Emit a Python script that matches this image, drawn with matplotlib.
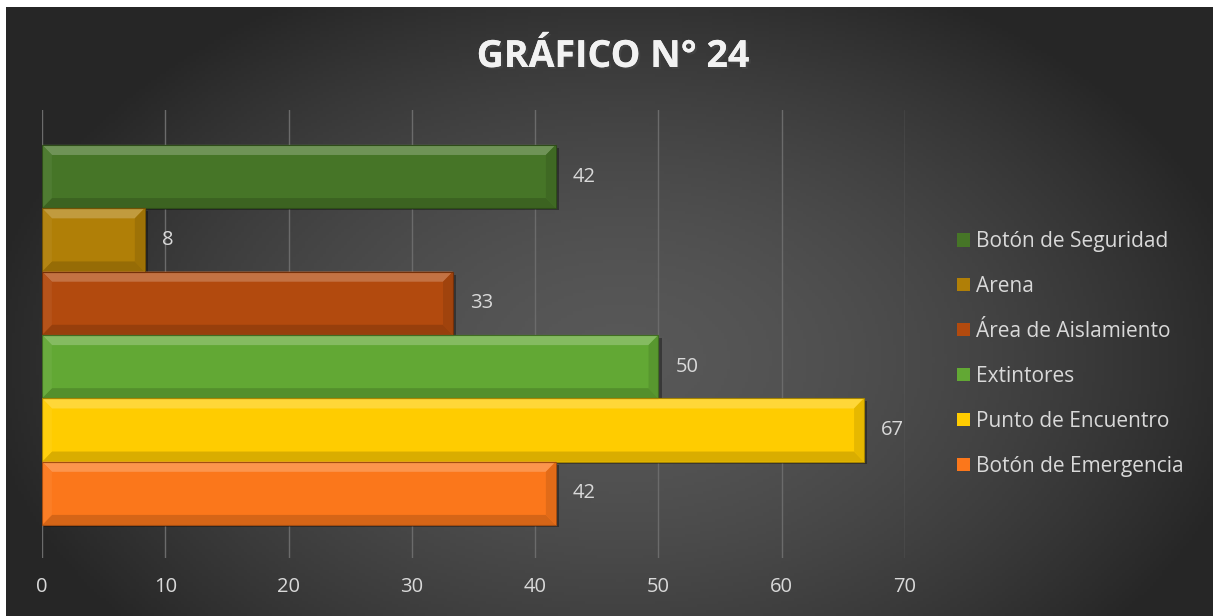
import numpy as np
import matplotlib
matplotlib.use("Agg")
import matplotlib.pyplot as plt
from matplotlib.patches import Polygon
import matplotlib.patheffects as pe

# data (top to bottom as in the chart)
categorias = ["Botón de Seguridad", "Arena", "Área de Aislamiento",
              "Extintores", "Punto de Encuentro", "Botón de Emergencia"]
valores = [41.67, 8.33, 33.33, 50.0, 66.67, 41.67]
colores = ["#467527", "#b07f07", "#b24a0e", "#62a834", "#ffcc00", "#fb771b"]
ticks_x = [0, 10, 20, 30, 40, 50, 60, 70]

plt.rcParams['font.family'] = ['Open Sans', 'DejaVu Sans']

W, H = 1213, 616
fig = plt.figure(figsize=(W / 100, H / 100), dpi=100, facecolor="white")

# radial background
bg = fig.add_axes([6 / W, 0, 1 - 6 / W, 1 - 7 / H])
bg.set_axis_off()
xx, yy = np.meshgrid(np.linspace(6, W, 400), np.linspace(7, H, 200))
r = np.sqrt(((xx - 620) / 640) ** 2 + ((yy - 360) / 420) ** 2)
r = np.clip(r, 0, 1)
c = 0.345 - (0.345 - 0.15) * r ** 1.6
bg.imshow(np.dstack([c, c, c]), extent=[0, 1, 0, 1], aspect="auto", origin="upper")
bg.set_xlim(0, 1)
bg.set_ylim(0, 1)


def mezcla(col, otro, t):
    a = np.array(matplotlib.colors.to_rgb(col))
    b = np.array(matplotlib.colors.to_rgb(otro))
    return tuple(a * (1 - t) + b * t)


ax = fig.add_axes([42 / W, 1 - 558 / H, (905 - 42) / W, (558 - 110) / H])
ax.patch.set_alpha(0)
n = len(categorias)
pos = np.arange(n)[::-1]
barras = ax.barh(pos, valores, height=1.0, color=colores, zorder=3,
                 edgecolor="none")

dx, dy = 0.8, 0.16
for b, col in zip(barras, colores):
    x0, y0 = b.get_x(), b.get_y()
    w, h = b.get_width(), b.get_height()
    x1, y1 = x0 + w, y0 + h
    # shadow
    ax.add_patch(Polygon([(x0 + 0.2, y0 - 0.03), (x1 + 0.25, y0 - 0.03),
                          (x1 + 0.25, y1 - 0.05), (x1, y1 - 0.05), (x1, y0), (x0 + 0.2, y0)],
                         closed=True, color="black", alpha=0.35, zorder=2, lw=0))
    ax.add_patch(Polygon([(x0, y1), (x1, y1), (x1 - dx, y1 - dy), (x0 + dx, y1 - dy)],
                         color=mezcla(col, "white", 0.22), zorder=4, lw=0))
    ax.add_patch(Polygon([(x0, y0), (x1, y0), (x1 - dx, y0 + dy), (x0 + dx, y0 + dy)],
                         color=mezcla(col, "black", 0.15), zorder=4, lw=0))
    ax.add_patch(Polygon([(x1, y0), (x1, y1), (x1 - dx, y1 - dy), (x1 - dx, y0 + dy)],
                         color=mezcla(col, "black", 0.1), zorder=4, lw=0))
    ax.add_patch(Polygon([(x0, y0), (x0, y1), (x0 + dx, y1 - dy), (x0 + dx, y0 + dy)],
                         color=mezcla(col, "white", 0.05), zorder=4, lw=0))
    ax.add_patch(Polygon([(x0, y0), (x1, y0), (x1, y1), (x0, y1)], fill=False,
                         edgecolor=mezcla(col, "black", 0.35), lw=0.8, zorder=5))
    ax.annotate(f"{w:.0f}", (x1, y0 + h / 2), xytext=(17, 0),
                textcoords="offset pixels", va="center", ha="left",
                color="#d9d9d9", fontsize=14.5)

ax.set_xlim(0, 70)
ax.set_ylim(-0.5 - 0.52, n - 0.5 + 0.55)
ax.set_xticks(ticks_x)
ax.set_yticks([])
ax.grid(axis="x", color="#6b6b6b", lw=1, zorder=0)
for s in ax.spines.values():
    s.set_visible(False)
ax.tick_params(axis="x", length=0, pad=14, labelsize=14.5, labelcolor="#d9d9d9")

leg = fig.legend(barras, categorias, loc="center left",
                 bbox_to_anchor=(949 / W, 1 - 354 / H), frameon=False,
                 fontsize=15, labelcolor="#d9d9d9", handlelength=0.62,
                 handleheight=0.62, handletextpad=0.3, labelspacing=1.15,
                 borderaxespad=0)

fig.text(613 / W, 1 - 57 / H, "GRÁFICO N° 24", ha="center", va="center",
         fontsize=27, fontweight="bold", color="#f2f2f2",
         path_effects=[pe.withSimplePatchShadow(offset=(1.5, -1.5), alpha=0.6),
                       pe.Normal()])

fig.savefig("out.png", dpi=100, facecolor="white")
